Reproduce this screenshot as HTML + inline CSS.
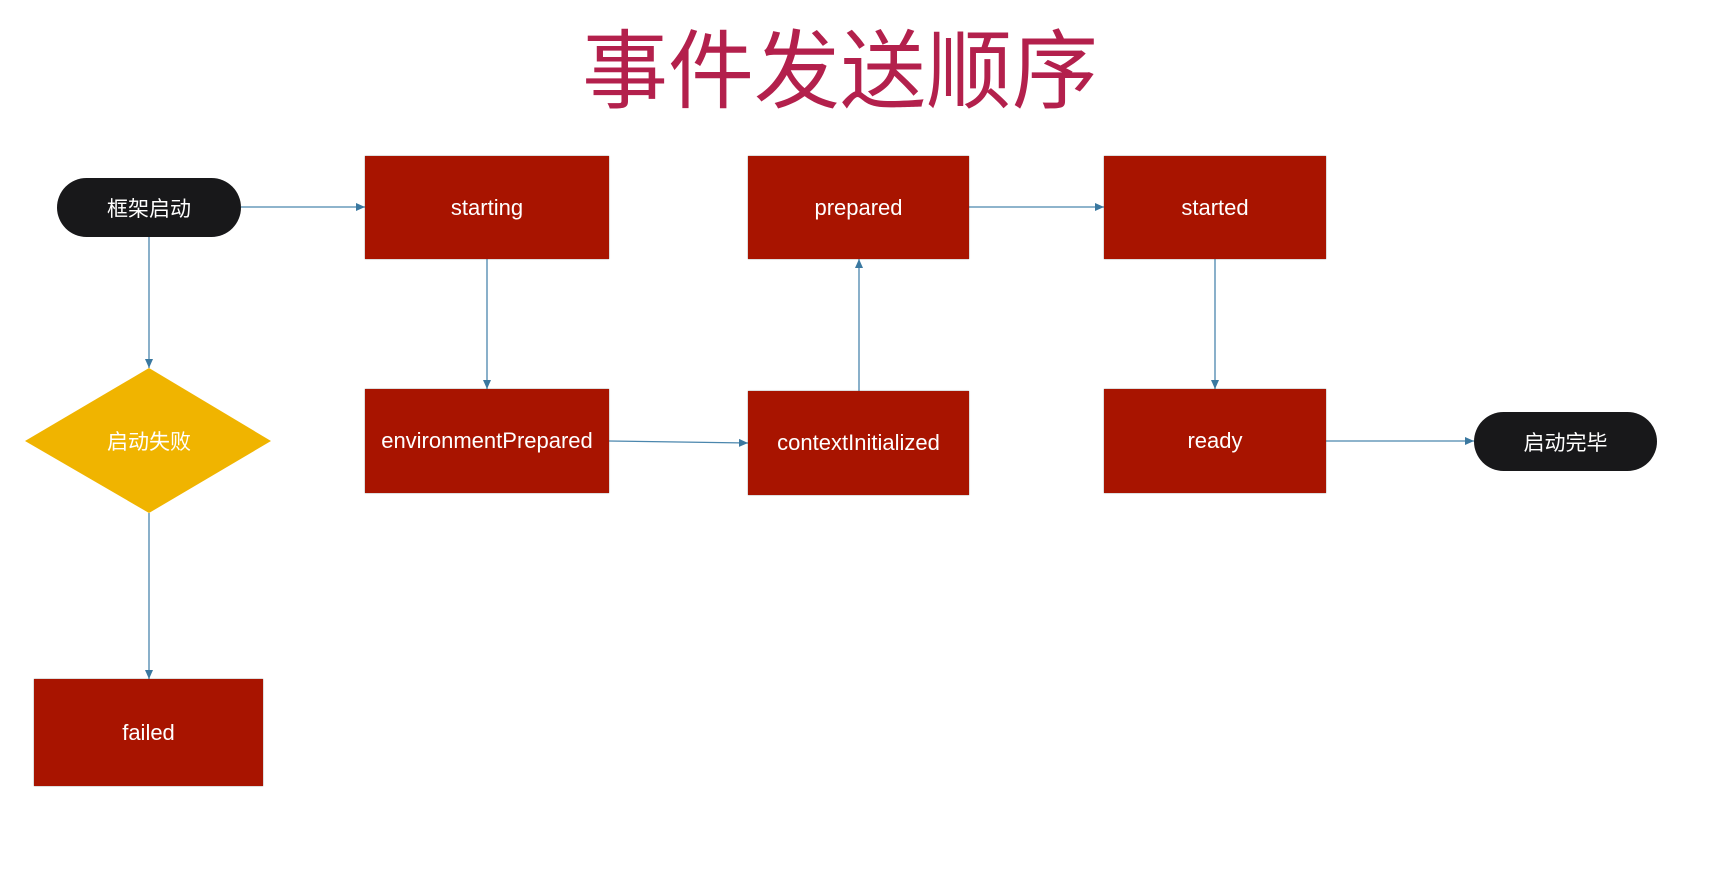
<!DOCTYPE html>
<html><head><meta charset="utf-8"><style>
body{margin:0;width:1730px;height:884px;background:#fff;overflow:hidden;position:relative;font-family:"Liberation Sans","Noto Sans CJK SC",sans-serif}
.t{position:absolute;left:560px;top:14px;width:560px;text-align:center;font-size:86px;color:#b3204c;font-family:"Noto Sans CJK SC",sans-serif;line-height:100px}
.b{position:absolute;background:#a81400;color:#fff;display:flex;align-items:center;justify-content:center;font-size:22px;box-shadow:0 0 1px #555}
.p{position:absolute;background:#18181a;color:#fff;display:flex;align-items:center;justify-content:center;font-size:21px;border-radius:30px;font-family:"Noto Sans CJK SC",sans-serif}
svg{position:absolute;left:0;top:0}
</style></head><body>
<div class="t">事件发送顺序</div>
<svg width="1730" height="884">
<defs><marker id="a" markerWidth="10" markerHeight="10" refX="9" refY="5" orient="auto" markerUnits="userSpaceOnUse"><path d="M0,1 L9,5 L0,9 z" fill="#3a78a0"/></marker></defs>
<g stroke="#4a86ad" stroke-width="1.3" fill="none" marker-end="url(#a)">
<line x1="241" y1="207" x2="365" y2="207"/>
<line x1="149" y1="237" x2="149" y2="368"/>
<line x1="149" y1="513" x2="149" y2="679"/>
<line x1="487" y1="259" x2="487" y2="389"/>
<line x1="609" y1="441" x2="748" y2="443"/>
<line x1="859" y1="391" x2="859" y2="259"/>
<line x1="969" y1="207" x2="1104" y2="207"/>
<line x1="1215" y1="259" x2="1215" y2="389"/>
<line x1="1326" y1="441" x2="1474" y2="441"/>
</g>
<polygon points="149,368 271,441 149,513 25,441" fill="#f0b400"/>
<text x="149" y="449" fill="#fff" font-size="21" text-anchor="middle" font-family="Noto Sans CJK SC,sans-serif">启动失败</text>
</svg>
<div class="p" style="left:57px;top:178px;width:184px;height:59px">框架启动</div>
<div class="p" style="left:1474px;top:412px;width:183px;height:59px">启动完毕</div>
<div class="b" style="left:365px;top:156px;width:244px;height:103px">starting</div>
<div class="b" style="left:748px;top:156px;width:221px;height:103px">prepared</div>
<div class="b" style="left:1104px;top:156px;width:222px;height:103px">started</div>
<div class="b" style="left:365px;top:389px;width:244px;height:104px">environmentPrepared</div>
<div class="b" style="left:748px;top:391px;width:221px;height:104px">contextInitialized</div>
<div class="b" style="left:1104px;top:389px;width:222px;height:104px">ready</div>
<div class="b" style="left:34px;top:679px;width:229px;height:107px">failed</div>
</body></html>
